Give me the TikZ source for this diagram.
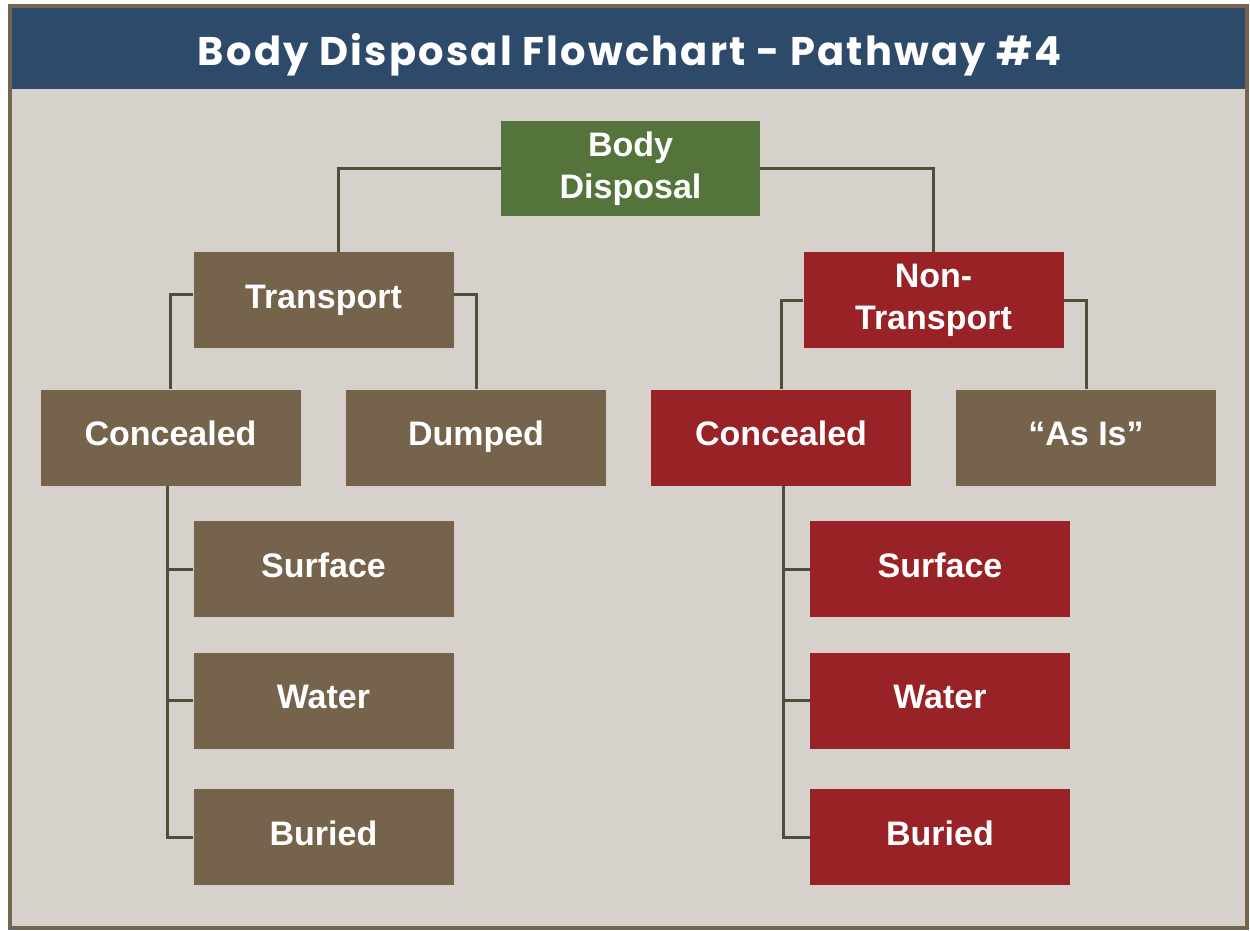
\documentclass[tikz,border=0pt]{standalone}
\usepackage{fontspec}
\setmainfont{Liberation Sans}
\newfontfamily\headfont{Poppins}[LetterSpace=5.5]
\usetikzlibrary{calc}
\definecolor{bgc}{HTML}{D6D2CB}
\definecolor{framec}{HTML}{76654E}
\definecolor{headc}{HTML}{2D4A6A}
\definecolor{greenc}{HTML}{55743B}
\definecolor{brownc}{HTML}{75644B}
\definecolor{redc}{HTML}{982226}
\definecolor{linec}{HTML}{4B5139}
\begin{document}
\begin{tikzpicture}[x=1pt,y=-1pt,
  box/.style={rectangle, minimum width=260pt, minimum height=96pt, inner sep=0pt,
    text=white, align=center, font=\fontsize{34}{42}\selectfont\bfseries},
  one/.style={text height=24.5pt, text depth=8.5pt},
  greenbox/.style={box, fill=greenc},
  brownbox/.style={box, fill=brownc},
  redbox/.style={box, fill=redc},
  conn/.style={draw=linec, line width=3pt}]
\useasboundingbox (0,0) rectangle (1250,930);
\fill[white] (0,0) rectangle (1250,930);
\draw[framec, line width=4pt, fill=bgc] (10,6) rectangle (1247,928);
\fill[headc] (12,8) rectangle (1245,89);
\node[anchor=base, text=white, font=\headfont\bfseries\fontsize{40}{44}\selectfont] (title) at (630,65) {Body Disposal Flowchart - Pathway \#4};
% nodes
\node[greenbox, minimum width=259pt, minimum height=95pt] (BD) at (630.5,168.5) {Body\\Disposal};
\node[brownbox, one] (T) at (323.5,300) {Transport};
\node[redbox] (NT) at (933.5,300) {Non-\\Transport};
\node[brownbox, one] (CL) at (170.5,437.5) {Concealed};
\node[brownbox, one] (D) at (476,437.5) {Dumped};
\node[redbox, one] (CR) at (781,437.5) {Concealed};
\node[brownbox, one] (A) at (1086,437.5) {``As Is''};
\node[brownbox, one] (SL) at (323.5,569) {Surface};
\node[brownbox, one] (WL) at (323.5,700.5) {Water};
\node[brownbox, one] (BL) at (323.5,837) {Buried};
\node[redbox, one] (SR) at (940,569) {Surface};
\node[redbox, one] (WR) at (940,700.5) {Water};
\node[redbox, one] (BR) at (940,837) {Buried};
% connectors
\draw[conn] (BD.west) -| ($(T.north)+(15,0)$);
\draw[conn] (BD.east) -| (NT.north);
\draw[conn] ([yshift=6pt]T.west) -| (CL.north);
\draw[conn] ([yshift=6pt]T.east) -| (D.north);
\draw[conn] (NT.west) -| (CR.north);
\draw[conn] (NT.east) -| (A.north);
\coordinate (cl) at ([xshift=-3pt]CL.south);
\coordinate (cr) at ([xshift=2pt]CR.south);
\draw[conn] (cl) |- (BL.west);
\draw[conn] (SL.west) -- (SL.west -| cl);
\draw[conn] (WL.west) -- (WL.west -| cl);
\draw[conn] (cr) |- (BR.west);
\draw[conn] (SR.west) -- (SR.west -| cr);
\draw[conn] (WR.west) -- (WR.west -| cr);
\end{tikzpicture}
\end{document}
